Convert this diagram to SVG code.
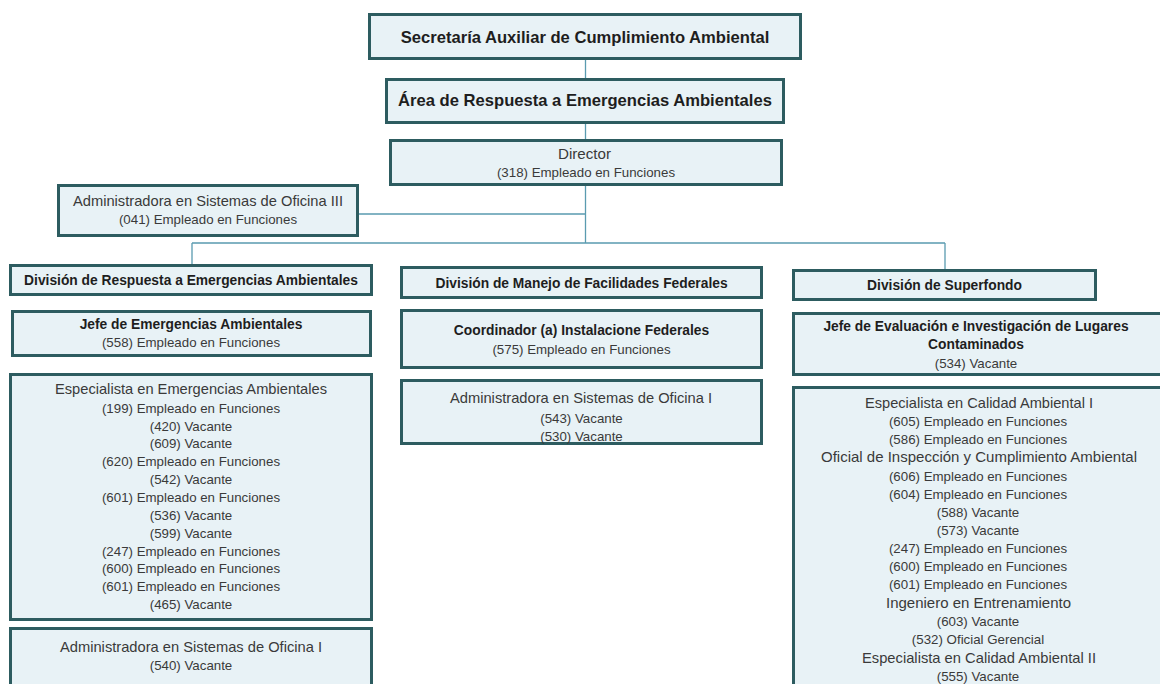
<svg xmlns="http://www.w3.org/2000/svg" width="1160" height="684" viewBox="0 0 1160 684">
<style>
.box{fill:#e8f2f6;stroke:#2d5c60;stroke-width:3}
.con{stroke:#5a9bb0;stroke-width:1.3;fill:none}
text{font-family:"Liberation Sans",Arial,sans-serif;text-anchor:middle;fill:#3a3a3a}
.r{font-size:13.3px}
.t{font-size:14.5px}
.b{font-size:13.8px;font-weight:bold;fill:#1e1e1e}
.h{font-size:16.6px;font-weight:bold;fill:#1e1e1e}
</style>
<rect width="1160" height="684" fill="#ffffff"/>
<g id="connectors">
<path class="con" d="M585.5 59V79M585.5 123V140M585.5 185V243M358 214H585.5M192 243H945M192 243V265M945 243V270"/>
</g>
<g id="secretaria">
<rect class="box" x="369.5" y="14.5" width="431" height="44"/>
<text class="h" x="585" y="43">Secretaría Auxiliar de Cumplimiento Ambiental</text>
</g>
<g id="area">
<rect class="box" x="386.5" y="79.5" width="397" height="43"/>
<text class="h" x="585" y="106">Área de Respuesta a Emergencias Ambientales</text>
</g>
<g id="director">
<rect class="box" x="390.5" y="140.5" width="391" height="44"/>
<text class="t" x="584.5" y="159" textLength="53" lengthAdjust="spacingAndGlyphs">Director</text>
<text class="r" x="586" y="176.5">(318) Empleado en Funciones</text>
</g>
<g id="admin-iii">
<rect class="box" x="58.5" y="185.5" width="299" height="50"/>
<text class="t" x="208" y="205.5" textLength="270" lengthAdjust="spacingAndGlyphs">Administradora en Sistemas de Oficina III</text>
<text class="r" x="208" y="223.5">(041) Empleado en Funciones</text>
</g>
<g id="div-respuesta">
<rect class="box" x="10.5" y="265.5" width="361" height="29"/>
<text class="b" x="191" y="285">División de Respuesta a Emergencias Ambientales</text>
</g>
<g id="jefe-emergencias">
<rect class="box" x="12.5" y="311.5" width="358" height="44"/>
<text class="b" x="191" y="329">Jefe de Emergencias Ambientales</text>
<text class="r" x="191" y="347">(558) Empleado en Funciones</text>
</g>
<g id="especialista-emergencias">
<rect class="box" x="10.5" y="374.5" width="361" height="245"/>
<text class="t" x="191" y="394" textLength="272" lengthAdjust="spacingAndGlyphs">Especialista en Emergencias Ambientales</text>
<text class="r" x="191" y="412.5">(199) Empleado en Funciones</text>
<text class="r" x="191" y="430.5">(420) Vacante</text>
<text class="r" x="191" y="447.5">(609) Vacante</text>
<text class="r" x="191" y="465.5">(620) Empleado en Funciones</text>
<text class="r" x="191" y="483.5">(542) Vacante</text>
<text class="r" x="191" y="501.5">(601) Empleado en Funciones</text>
<text class="r" x="191" y="519.5">(536) Vacante</text>
<text class="r" x="191" y="537.5">(599) Vacante</text>
<text class="r" x="191" y="555.5">(247) Empleado en Funciones</text>
<text class="r" x="191" y="572.5">(600) Empleado en Funciones</text>
<text class="r" x="191" y="590.5">(601) Empleado en Funciones</text>
<text class="r" x="191" y="608.5">(465) Vacante</text>
</g>
<g id="admin-i-respuesta">
<rect class="box" x="10.5" y="628.5" width="361" height="62"/>
<text class="t" x="191" y="652" textLength="262" lengthAdjust="spacingAndGlyphs">Administradora en Sistemas de Oficina I</text>
<text class="r" x="191" y="669.5">(540) Vacante</text>
</g>
<g id="div-manejo">
<rect class="box" x="401.5" y="267.5" width="360" height="30"/>
<text class="b" x="581.5" y="287.5">División de Manejo de Facilidades Federales</text>
</g>
<g id="coordinador">
<rect class="box" x="401.5" y="310.5" width="360" height="57"/>
<text class="b" x="581.5" y="335">Coordinador (a) Instalacione Federales</text>
<text class="r" x="581.5" y="353.5">(575) Empleado en Funciones</text>
</g>
<g id="admin-i-manejo">
<rect class="box" x="401.5" y="380.5" width="360" height="63"/>
<text class="t" x="581" y="403" textLength="262" lengthAdjust="spacingAndGlyphs">Administradora en Sistemas de Oficina I</text>
<text class="r" x="581.5" y="422.5">(543) Vacante</text>
<text class="r" x="581.5" y="440.5">(530) Vacante</text>
</g>
<g id="div-superfondo">
<rect class="box" x="793.5" y="270.5" width="302" height="29"/>
<text class="b" x="944.5" y="290">División de Superfondo</text>
</g>
<g id="jefe-evaluacion">
<rect class="box" x="793.5" y="313.5" width="372" height="61"/>
<text class="b" x="976" y="331">Jefe de Evaluación e Investigación de Lugares</text>
<text class="b" x="976" y="349">Contaminados</text>
<text class="r" x="976" y="367.5">(534) Vacante</text>
</g>
<g id="especialistas-superfondo">
<rect class="box" x="793.5" y="387.5" width="372" height="312"/>
<text class="t" x="979" y="408" textLength="228" lengthAdjust="spacingAndGlyphs">Especialista en Calidad Ambiental I</text>
<text class="r" x="978" y="425.5">(605) Empleado en Funciones</text>
<text class="r" x="978" y="443.5">(586) Empleado en Funciones</text>
<text class="t" x="979" y="462" textLength="316" lengthAdjust="spacingAndGlyphs">Oficial de Inspección y Cumplimiento Ambiental</text>
<text class="r" x="978" y="480.5">(606) Empleado en Funciones</text>
<text class="r" x="978" y="498.5">(604) Empleado en Funciones</text>
<text class="r" x="978" y="516.5">(588) Vacante</text>
<text class="r" x="978" y="534.5">(573) Vacante</text>
<text class="r" x="978" y="552.5">(247) Empleado en Funciones</text>
<text class="r" x="978" y="570.5">(600) Empleado en Funciones</text>
<text class="r" x="978" y="588.5">(601) Empleado en Funciones</text>
<text class="t" x="978.5" y="608" textLength="185" lengthAdjust="spacingAndGlyphs">Ingeniero en Entrenamiento</text>
<text class="r" x="978" y="625.5">(603) Vacante</text>
<text class="r" x="978" y="643.5">(532) Oficial Gerencial</text>
<text class="t" x="979" y="663" textLength="234" lengthAdjust="spacingAndGlyphs">Especialista en Calidad Ambiental II</text>
<text class="r" x="978" y="680.5">(555) Vacante</text>
</g>
</svg>
